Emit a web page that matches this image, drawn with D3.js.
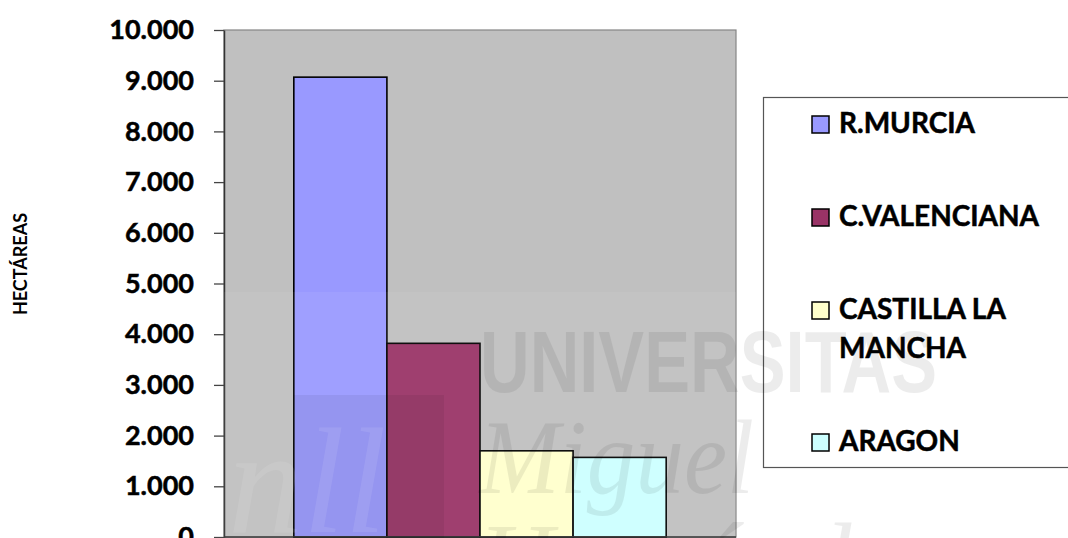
<!DOCTYPE html>
<html>
<head>
<meta charset="utf-8">
<script src="https://cdn.jsdelivr.net/npm/d3@7/dist/d3.min.js"></script>
<style>
  html, body { margin: 0; padding: 0; background: #fff; }
  svg { display: block; }
</style>
</head>
<body>
<svg id="chart" width="1068" height="538"></svg>
<script>
// Superficie por comunidad autónoma (hectáreas)
const regions = ["R.MURCIA", "C.VALENCIANA", "CASTILLA LA MANCHA", "ARAGON"];
const hectares = [9070, 3820, 1700, 1570];
const colors = ["#9999ff", "#993366", "#ffffcc", "#ccffff"];
const yTicks = [0, 1000, 2000, 3000, 4000, 5000, 6000, 7000, 8000, 9000, 10000];
const yLabel = "HECTÁREAS";

const svg = d3.select("#chart");
const plot = { left: 224, right: 736, top: 30, bottom: 537 };

const esLocale = d3.formatLocale({ decimal: ",", thousands: ".", grouping: [3], currency: ["", "€"] });
const fmt = esLocale.format(",d");

const y = d3.scaleLinear().domain([0, 10000]).range([plot.bottom, plot.top]);

// one category; the bars fill the band with a 150% gap split on both sides
const gapRatio = 1.5;
const barW = (plot.right - plot.left) / (regions.length + gapRatio);
const x = d3.scaleBand()
  .domain(regions)
  .range([plot.left + barW * gapRatio / 2, plot.right - barW * gapRatio / 2])
  .padding(0);

// plot background
svg.append("rect")
  .attr("x", plot.left).attr("y", plot.top)
  .attr("width", plot.right - plot.left).attr("height", plot.bottom - plot.top)
  .attr("fill", "#c0c0c0")
  .attr("stroke", "#858585").attr("stroke-width", 1.2);

// bars
svg.append("g").selectAll("rect")
  .data(regions)
  .join("rect")
  .attr("x", d => x(d))
  .attr("y", (d, i) => y(hectares[i]))
  .attr("width", x.bandwidth())
  .attr("height", (d, i) => y(0) - y(hectares[i]))
  .attr("fill", (d, i) => colors[i])
  .attr("stroke", "#000").attr("stroke-width", 1.6);

// y axis
const yAxis = d3.axisLeft(y).tickValues(yTicks).tickFormat(fmt).tickSize(10).tickSizeOuter(0).tickPadding(20);
const ga = svg.append("g").attr("transform", `translate(${plot.left},0)`).call(yAxis);
ga.select(".domain").attr("stroke", "#333").attr("stroke-width", 1.5);
ga.selectAll(".tick line").attr("stroke", "#444").attr("stroke-width", 1.3);
ga.selectAll(".tick text")
  .attr("fill", "#000")
  .attr("stroke", "#000").attr("stroke-width", 0.5)
  .style("font-family", "Lato, 'Open Sans', sans-serif")
  .style("font-weight", "bold")
  .style("font-size", "27px");

// x baseline
svg.append("line")
  .attr("x1", plot.left).attr("x2", plot.right)
  .attr("y1", y(0)).attr("y2", y(0))
  .attr("stroke", "#333").attr("stroke-width", 1.5);

// y axis title
svg.append("text")
  .attr("transform", "translate(27,264) rotate(-90)")
  .attr("text-anchor", "middle")
  .style("font-family", "Lato, 'Open Sans', sans-serif")
  .style("font-weight", "bold")
  .style("font-size", "18px")
  .attr("fill", "#000")
  .text(yLabel);

// legend
const legend = svg.append("g");
legend.append("rect")
  .attr("x", 763.5).attr("y", 97.5)
  .attr("width", 400).attr("height", 370)
  .attr("fill", "#fff").attr("stroke", "#555").attr("stroke-width", 1.2);

const lineH = 39, entryGap = 54, textX = 839, swX = 812, sw = 17, maxW = 210;
let baseline = 133;
regions.forEach((name, i) => {
  const t = legend.append("text")
    .attr("x", textX)
    .style("font-family", "Lato, 'Open Sans', sans-serif")
    .style("font-weight", "bold")
    .style("font-size", "28px")
    .attr("fill", "#000")
    .attr("stroke", "#000").attr("stroke-width", 0.5);
  // word wrap into the available width
  const words = name.split(" ");
  let lines = [], cur = "";
  const probe = t.append("tspan");
  words.forEach(w => {
    const test = cur ? cur + " " + w : w;
    probe.text(test);
    if (probe.node().getComputedTextLength() > maxW && cur) { lines.push(cur); cur = w; }
    else cur = test;
  });
  lines.push(cur);
  probe.remove();
  lines.forEach((ln, k) => {
    t.append("tspan").attr("x", textX).attr("y", baseline + k * lineH).text(ln);
  });
  legend.append("rect")
    .attr("x", swX).attr("y", baseline - sw)
    .attr("width", sw).attr("height", sw)
    .attr("fill", colors[i]).attr("stroke", "#000").attr("stroke-width", 1.5);
  baseline += lines.length * lineH + entryGap;
});

// institutional watermark laid over the whole figure
const wm = svg.append("g").style("pointer-events", "none");
wm.append("rect")
  .attr("x", plot.left).attr("y", 292)
  .attr("width", plot.right - plot.left).attr("height", plot.bottom - 292)
  .attr("fill", "#fff").attr("opacity", 0.06);
wm.append("rect")
  .attr("x", 293).attr("y", 395).attr("width", 151).attr("height", 143)
  .attr("fill", "#000").attr("opacity", 0.06);
wm.append("text")
  .attr("x", 228).attr("y", 532)
  .style("font-family", "'Liberation Serif', serif")
  .style("font-style", "italic")
  .style("font-size", "150px")
  .attr("fill", "#fff").attr("opacity", 0.09)
  .text("nll");
wm.append("text")
  .attr("x", 480).attr("y", 392)
  .attr("textLength", 457).attr("lengthAdjust", "spacingAndGlyphs")
  .style("font-family", "'Liberation Sans', Arial, sans-serif")
  .style("font-weight", "bold")
  .style("font-size", "87px")
  .attr("fill", "#000").attr("opacity", 0.07)
  .text("UNIVERSITAS");
wm.append("text")
  .attr("x", 479).attr("y", 493)
  .attr("textLength", 275).attr("lengthAdjust", "spacingAndGlyphs")
  .style("font-family", "'Liberation Serif', serif")
  .style("font-style", "italic")
  .style("font-size", "105px")
  .attr("fill", "#000").attr("opacity", 0.07)
  .text("Miguel");
wm.append("text")
  .attr("x", 478).attr("y", 596)
  .style("font-family", "'Liberation Serif', serif")
  .style("font-style", "italic")
  .style("font-size", "105px")
  .attr("fill", "#000").attr("opacity", 0.07)
  .text("Hernández");
</script>
</body>
</html>
